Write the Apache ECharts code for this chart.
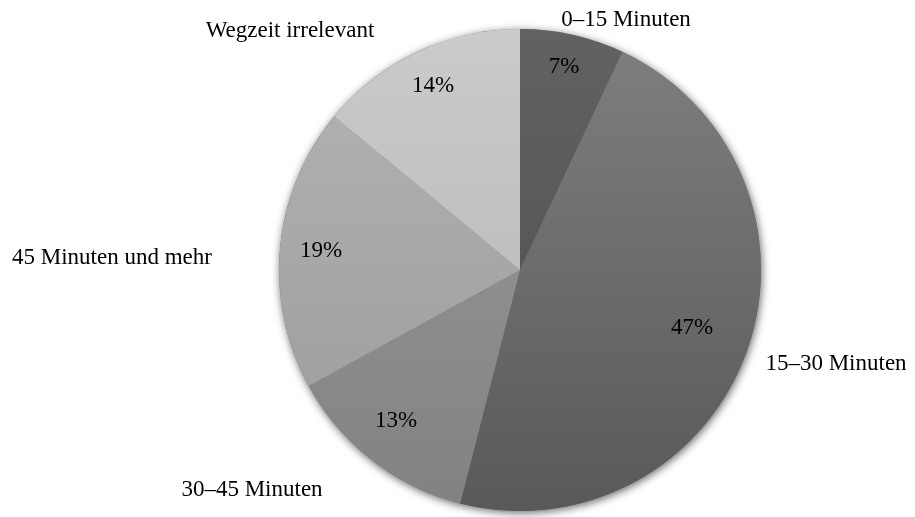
<!DOCTYPE html>
<html>
<head>
<meta charset="utf-8">
<script src="https://cdn.jsdelivr.net/npm/echarts@6/dist/echarts.min.js"></script>
<style>
html,body{margin:0;padding:0;background:#fff;}
#chart{width:915px;height:517px;}
</style>
</head>
<body>
<div id="chart"></div>
<script>
const categories = ['0–15 Minuten', '15–30 Minuten', '30–45 Minuten', '45 Minuten und mehr', 'Wegzeit irrelevant'];
const values = [7, 47, 13, 19, 14];

// styling / layout (not data)
const sliceColors = [
  ['#626262', '#4c4c4c'],
  ['#7f7f7f', '#595959'],
  ['#9a9a9a', '#828282'],
  ['#b4b4b4', '#9a9a9a'],
  ['#cbcbcb', '#b2b2b2']
];
const CX = 520, CY = 270, R = 241;
const pctPos = [[564, 67], [692, 328], [396, 421], [321, 251], [433, 86]];
const namePos = [[626, 20], [836, 364], [252, 490], [112, 258], [290, 31]];
const FONT = 'Liberation Serif';

const chart = echarts.init(document.getElementById('chart'), null, {renderer: 'canvas'});

function grad(c) {
  return {
    type: 'linear', x: 0, y: CY - R, x2: 0, y2: CY + R, global: true,
    colorStops: [{offset: 0, color: c[0]}, {offset: 1, color: c[1]}]
  };
}

const sliceData = categories.map((name, i) => ({
  name: name,
  value: values[i],
  itemStyle: {color: grad(sliceColors[i])}
}));
const nameData = categories.map((name, i) => ({name: name, value: values[i]}));

chart.setOption({
  animation: false,
  backgroundColor: '#ffffff',
  series: [
    {
      type: 'pie',
      center: [CX, CY],
      radius: R,
      silent: true,
      z: 1,
      label: {show: false},
      labelLine: {show: false},
      data: [{value: 1, itemStyle: {color: '#777', shadowBlur: 8, shadowOffsetX: 1, shadowOffsetY: 2, shadowColor: 'rgba(0,0,0,0.6)'}}]
    },
    {
      type: 'pie',
      center: [CX, CY],
      radius: R,
      startAngle: 90,
      clockwise: true,
      silent: true,
      z: 2,
      avoidLabelOverlap: false,
      itemStyle: {borderWidth: 0},
      emphasis: {disabled: true},
      label: {
        show: true,
        position: 'inside',
        formatter: '{c}%',
        fontFamily: FONT,
        fontSize: 23,
        color: '#000'
      },
      labelLine: {show: false},
      labelLayout: function (params) {
        const p = pctPos[params.dataIndex];
        return {x: p[0], y: p[1], align: 'center', verticalAlign: 'middle'};
      },
      data: sliceData
    },
    {
      type: 'pie',
      center: [CX, CY],
      radius: R,
      startAngle: 90,
      clockwise: true,
      silent: true,
      z: 3,
      avoidLabelOverlap: false,
      itemStyle: {color: 'rgba(0,0,0,0)', borderWidth: 0},
      emphasis: {disabled: true},
      label: {
        show: true,
        position: 'outside',
        formatter: '{b}',
        fontFamily: FONT,
        fontSize: 23,
        color: '#000'
      },
      labelLine: {show: false},
      labelLayout: function (params) {
        const p = namePos[params.dataIndex];
        return {x: p[0], y: p[1], align: 'center', verticalAlign: 'middle'};
      },
      data: nameData
    }
  ]
});
</script>
</body>
</html>
